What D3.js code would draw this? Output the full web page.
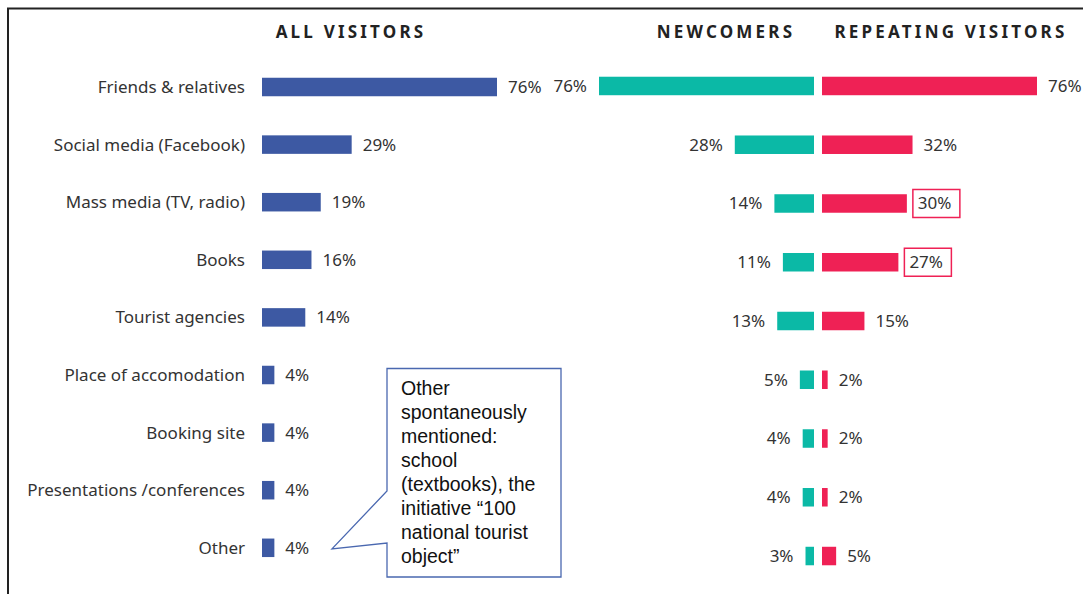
<!DOCTYPE html>
<html>
<head>
<meta charset="utf-8">
<script src="https://cdn.jsdelivr.net/npm/d3@7"></script>
<style>
  body { margin: 0; background: #fff; }
</style>
</head>
<body>
<svg id="chart" width="1083" height="594"></svg>
<script>
const categories = [
  "Friends & relatives",
  "Social media (Facebook)",
  "Mass media (TV, radio)",
  "Books",
  "Tourist agencies",
  "Place of accomodation",
  "Booking site",
  "Presentations /conferences",
  "Other"
];
const allVisitors = [76, 29, 19, 16, 14, 4, 4, 4, 4];
const newcomers = [76, 28, 14, 11, 13, 5, 4, 4, 3];
const repeating = [76, 32, 30, 27, 15, 2, 2, 2, 5];
const boxedRepeating = ["Mass media (TV, radio)", "Books"];
const calloutLines = [
  "Other",
  "spontaneously",
  "mentioned:",
  "school",
  "(textbooks), the",
  "initiative \u201c100",
  "national tourist",
  "object\u201d"
];

const svg = d3.select("#chart");
const width = +svg.attr("width");
const height = +svg.attr("height");

const blue = "#3d59a3";
const teal = "#0bb9a6";
const red = "#ef2155";
const textColor = "#333";
const font = "'Noto Sans', sans-serif";

// frame (top and left only)
svg.append("path")
  .attr("d", "M8,594 V8.5 H" + width)
  .attr("fill", "none")
  .attr("stroke", "#222")
  .attr("stroke-width", 2);

// scales
const yLeft = d3.scaleBand().domain(categories).range([58.2, 576.6]).paddingInner(0.68).paddingOuter(0.34);
const yRight = d3.scaleBand().domain(categories).range([56.6, 585.4]).paddingInner(0.68).paddingOuter(0.34);

const xAll = d3.scaleLinear().domain([0, 76]).range([262, 497]);
const xNew = d3.scaleLinear().domain([0, 76]).range([814, 599]);
const xRep = d3.scaleLinear().domain([0, 76]).range([822, 1037]);

const leftRows = categories.map((c, i) => ({ name: c, value: allVisitors[i] }));
const newRows = categories.map((c, i) => ({ name: c, value: newcomers[i] }));
const repRows = categories.map((c, i) => ({ name: c, value: repeating[i] }));

const barH = 18.5;
const cy = (scale, name) => scale(name) + scale.bandwidth() / 2;

// headers
const headers = [
  { text: "ALL VISITORS", x: 351 },
  { text: "NEWCOMERS", x: 726 },
  { text: "REPEATING VISITORS", x: 951 }
];
svg.selectAll(".header")
  .data(headers)
  .enter()
  .append("text")
  .attr("class", "header")
  .attr("x", d => d.x)
  .attr("y", 37.5)
  .attr("text-anchor", "middle")
  .attr("font-family", font)
  .attr("font-size", "17px")
  .attr("font-weight", "bold")
  .attr("letter-spacing", "3.2px")
  .attr("fill", "#222")
  .text(d => d.text);

// category labels
svg.selectAll(".cat-label")
  .data(leftRows)
  .enter()
  .append("text")
  .attr("class", "cat-label")
  .attr("x", 245)
  .attr("y", d => cy(yLeft, d.name))
  .attr("dy", "0.35em")
  .attr("text-anchor", "end")
  .attr("font-family", font)
  .attr("font-size", "17px")
  .attr("fill", textColor)
  .text(d => d.name);

// all visitors bars
svg.selectAll(".bar-all")
  .data(leftRows)
  .enter()
  .append("rect")
  .attr("class", "bar-all")
  .attr("x", xAll(0))
  .attr("y", d => cy(yLeft, d.name) - barH / 2)
  .attr("width", d => xAll(d.value) - xAll(0))
  .attr("height", barH)
  .attr("fill", blue);

svg.selectAll(".val-all")
  .data(leftRows)
  .enter()
  .append("text")
  .attr("class", "val-all")
  .attr("x", d => xAll(d.value) + 11)
  .attr("y", d => cy(yLeft, d.name))
  .attr("dy", "0.35em")
  .attr("font-family", font)
  .attr("font-size", "17px")
  .attr("fill", textColor)
  .text(d => d.value + "%");

// newcomers bars
svg.selectAll(".bar-new")
  .data(newRows)
  .enter()
  .append("rect")
  .attr("class", "bar-new")
  .attr("x", d => xNew(d.value))
  .attr("y", d => cy(yRight, d.name) - barH / 2)
  .attr("width", d => xNew(0) - xNew(d.value))
  .attr("height", barH)
  .attr("fill", teal);

svg.selectAll(".val-new")
  .data(newRows)
  .enter()
  .append("text")
  .attr("class", "val-new")
  .attr("x", d => xNew(d.value) - 12)
  .attr("y", d => cy(yRight, d.name))
  .attr("dy", "0.35em")
  .attr("text-anchor", "end")
  .attr("font-family", font)
  .attr("font-size", "17px")
  .attr("fill", textColor)
  .text(d => d.value + "%");

// repeating visitors bars
svg.selectAll(".bar-rep")
  .data(repRows)
  .enter()
  .append("rect")
  .attr("class", "bar-rep")
  .attr("x", xRep(0))
  .attr("y", d => cy(yRight, d.name) - barH / 2)
  .attr("width", d => xRep(d.value) - xRep(0))
  .attr("height", barH)
  .attr("fill", red);

svg.selectAll(".box-rep")
  .data(repRows.filter(d => boxedRepeating.includes(d.name)))
  .enter()
  .append("rect")
  .attr("class", "box-rep")
  .attr("x", d => xRep(d.value) + 6)
  .attr("y", d => cy(yRight, d.name) - 14)
  .attr("width", 47)
  .attr("height", 28)
  .attr("fill", "none")
  .attr("stroke", red)
  .attr("stroke-width", 1.5);

svg.selectAll(".val-rep")
  .data(repRows)
  .enter()
  .append("text")
  .attr("class", "val-rep")
  .attr("x", d => xRep(d.value) + 11)
  .attr("y", d => cy(yRight, d.name))
  .attr("dy", "0.35em")
  .attr("font-family", font)
  .attr("font-size", "17px")
  .attr("fill", textColor)
  .text(d => d.value + "%");

// callout for "Other"
const otherY = cy(yLeft, "Other");
const box = { x: 387, y: 368.5, w: 174, h: 208.5 };
svg.append("path")
  .attr("d", "M" + box.x + "," + box.y +
    " H" + (box.x + box.w) +
    " V" + (box.y + box.h) +
    " H" + box.x +
    " V543 L332," + (otherY + 1) + " L" + box.x + ",491 Z")
  .attr("fill", "white")
  .attr("stroke", "#4a68b0")
  .attr("stroke-width", 1.3);

svg.append("g")
  .selectAll("text")
  .data(calloutLines)
  .enter()
  .append("text")
  .attr("x", 401)
  .attr("y", (d, i) => 395 + i * 24)
  .attr("font-family", "'Liberation Sans', Arial, sans-serif")
  .attr("font-size", "19.5px")
  .attr("fill", "#111")
  .text(d => d);
</script>
</body>
</html>
